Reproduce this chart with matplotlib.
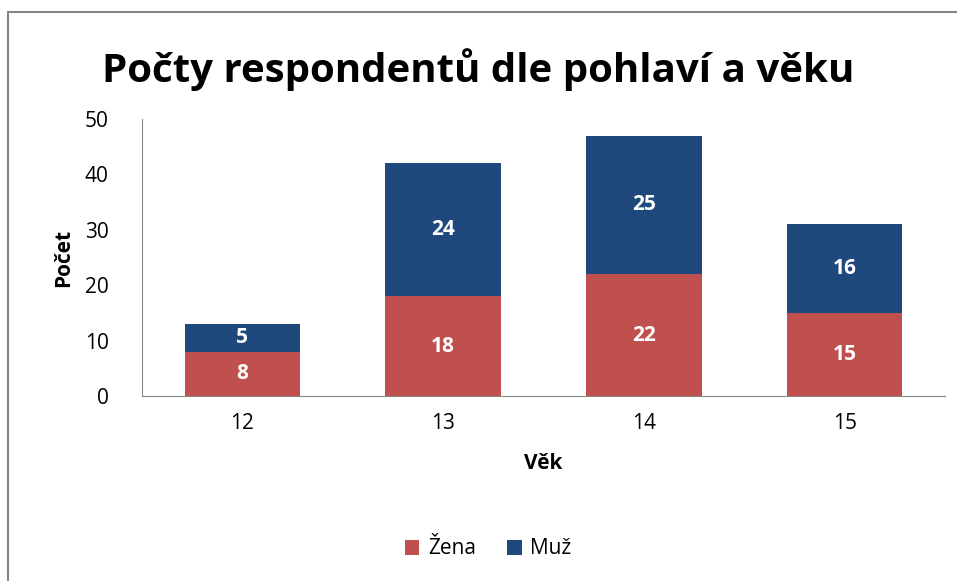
import matplotlib.pyplot as plt
import numpy as np

# data
vek = ['12', '13', '14', '15']
zena = [8, 18, 22, 15]
muz = [5, 24, 25, 16]

plt.rcParams['font.family'] = ['Open Sans', 'DejaVu Sans']

fig = plt.figure(figsize=(9.57, 5.81), dpi=100)
ax = fig.add_axes([142 / 957, 1 - 396 / 581, (945 - 142) / 957, (396 - 119) / 581])

x = np.arange(len(vek))
w = 0.575
b1 = ax.bar(x, zena, w, color='#C0504D', label='Žena')
b2 = ax.bar(x, muz, w, bottom=zena, color='#1F497D', label='Muž')

for bars in (b1, b2):
    ax.bar_label(bars, label_type='center', color='white', fontweight='bold', fontsize=15)

ax.set_xlim(-0.5, len(vek) - 0.5)
ax.set_ylim(0, 50)
ax.set_yticks(range(0, 51, 10))
ax.set_xticks(x)
ax.set_xticklabels(vek)
ax.tick_params(length=0, labelsize=15, colors='black')
ax.tick_params(axis='y', pad=24)
ax.tick_params(axis='x', pad=12)
for s in ['top', 'right']:
    ax.spines[s].set_visible(False)
for s in ['left', 'bottom']:
    ax.spines[s].set_color('#868686')

ax.set_xlabel('Věk', fontsize=15, fontweight='bold', labelpad=14)
ax.set_ylabel('Počet', fontsize=15, fontweight='bold', labelpad=8)

fig.text(0.5, 1 - 70 / 581, 'Počty respondentů dle pohlaví a věku', ha='center', va='center',
         fontsize=29, fontweight='bold')

fig.legend(loc='center', bbox_to_anchor=(0.51, 1 - 549 / 581), ncol=2, frameon=False,
           fontsize=15, handlelength=0.7, handleheight=0.7, handletextpad=0.4, columnspacing=1.5)

# ramecek kolem grafu
fig.patches.append(plt.Rectangle((8 / 957, -0.1), 1.2, 1 - 12 / 581 + 0.1, transform=fig.transFigure,
                                 fill=False, edgecolor='#868686', linewidth=1.5))

fig.savefig('out.png', dpi=100)
